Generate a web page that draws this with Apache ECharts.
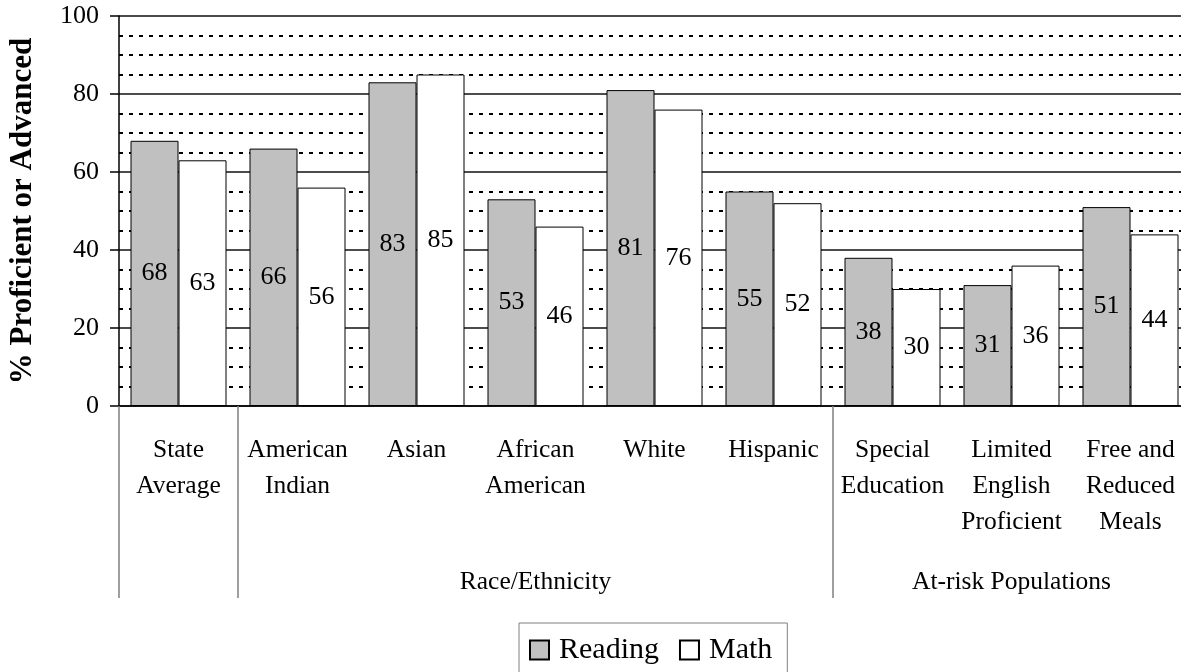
<!DOCTYPE html>
<html>
<head>
<meta charset="utf-8">
<script src="https://cdn.jsdelivr.net/npm/echarts@6/dist/echarts.min.js"></script>
<style>
  html, body { margin: 0; padding: 0; background: #fff; }
  #chart { width: 1181px; height: 672px; }
</style>
</head>
<body>
<div id="chart"></div>
<script>
const categories = [
  'State\nAverage', 'American\nIndian', 'Asian', 'African\nAmerican', 'White',
  'Hispanic', 'Special\nEducation', 'Limited\nEnglish\nProficient', 'Free and\nReduced\nMeals'
]
const groupLabels = ['', '', '', 'Race/Ethnicity', '', '', '', 'At-risk Populations', '']
// category index where each group starts (a separator line is drawn there)
const groupStarts = [0, 1, 6]
const reading = [68, 66, 83, 53, 81, 55, 38, 31, 51]
const math = [63, 56, 85, 46, 76, 52, 30, 36, 44]

const font = '"Liberation Serif", "Times New Roman", serif'
const chart = echarts.init(document.getElementById('chart'))

const barLabel = {
  show: true,
  position: 'inside',
  color: '#000',
  fontFamily: font,
  fontSize: 26,
}

const option = {
  animation: false,
  textStyle: { fontFamily: font },
  grid: { left: 119, top: 16, height: 390, width: 1071, outerBoundsMode: 'none', containLabel: false },
  legend: {
    left: 519,
    top: 623,
    padding: [12, 15, 10, 10],
    borderColor: '#808080',
    borderWidth: 1,
    icon: 'rect',
    itemWidth: 19,
    itemHeight: 19,
    itemGap: 20,
    textStyle: { fontFamily: font, fontSize: 30, color: '#000', padding: [0, 0, 0, 5] },
    data: ['Reading', 'Math'],
  },
  xAxis: [
    {
      type: 'category',
      data: categories,
      axisLine: { lineStyle: { color: '#000', width: 1.5 } },
      axisTick: {
        show: true,
        length: 192,
        interval: (i) => groupStarts.includes(i),
        lineStyle: { color: '#808080', width: 1.5 },
      },
      axisLabel: {
        interval: 0,
        margin: 26,
        color: '#000',
        fontFamily: font,
        fontSize: 25.5,
        lineHeight: 36,
      },
    },
    {
      type: 'category',
      position: 'bottom',
      offset: 0,
      data: groupLabels,
      axisLine: { show: false },
      axisTick: { show: false },
      axisLabel: {
        interval: 0,
        margin: 163,
        color: '#000',
        fontFamily: font,
        fontSize: 25.5,
      },
    },
  ],
  yAxis: {
    type: 'value',
    min: 0,
    max: 100,
    interval: 20,
    name: '% Proficient or Advanced',
    nameLocation: 'middle',
    nameGap: 81,
    nameTextStyle: { fontFamily: font, fontSize: 31, fontWeight: 'bold', color: '#000' },
    axisLine: { show: true, lineStyle: { color: '#000', width: 1.5 } },
    axisTick: { show: true, length: 9, lineStyle: { color: '#000', width: 1.5 } },
    axisLabel: { margin: 20, color: '#000', fontFamily: font, fontSize: 26 },
    splitLine: { show: true, lineStyle: { color: '#111', width: 1.5 } },
    minorTick: { show: false, splitNumber: 4 },
    minorSplitLine: { show: true, lineStyle: { color: '#000', width: 2, type: [4, 6] } },
  },
  series: [
    {
      name: 'Reading',
      type: 'bar',
      data: reading,
      barWidth: 48,
      barGap: '0%',
      itemStyle: { color: '#c0c0c0', borderColor: '#000', borderWidth: 1 },
      label: barLabel,
    },
    {
      name: 'Math',
      type: 'bar',
      data: math,
      barWidth: 48,
      itemStyle: { color: '#ffffff', borderColor: '#000', borderWidth: 1 },
      label: barLabel,
    },
  ],
}

chart.setOption(option)
</script>
</body>
</html>
